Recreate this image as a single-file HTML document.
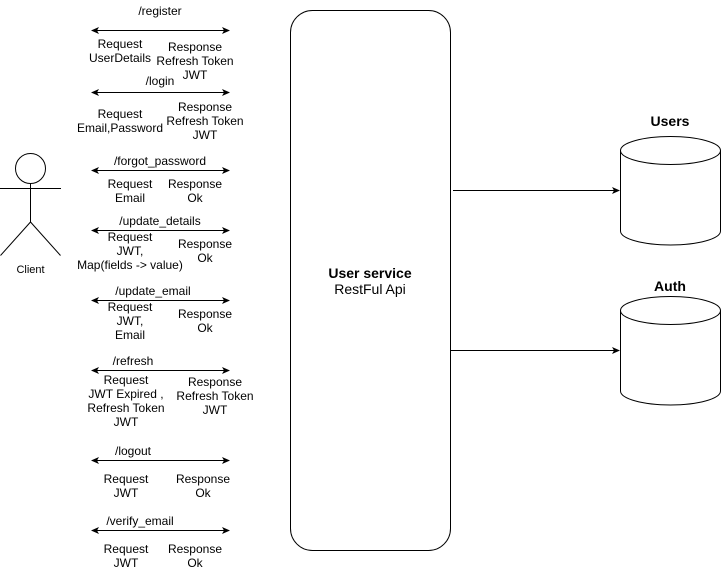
<!DOCTYPE html>
<html><head><meta charset="utf-8"><style>
html,body{margin:0;padding:0;background:#fff;}
svg{display:block;font-family:"Liberation Sans",Arial,sans-serif;}
</style></head><body>
<svg width="721" height="571" viewBox="0 0 721 571" xmlns="http://www.w3.org/2000/svg">
<defs>
<marker id="a" markerWidth="8" markerHeight="8" refX="7" refY="4" orient="auto-start-reverse" markerUnits="userSpaceOnUse"><path d="M0,0.5 L8,4 L0,7.5 L2,4 Z" fill="#000"/></marker>
</defs>
<g stroke="#000" stroke-width="1" fill="none">
<line x1="92" y1="30.5" x2="229" y2="30.5" marker-start="url(#a)" marker-end="url(#a)"/>
<line x1="92" y1="92.5" x2="229" y2="92.5" marker-start="url(#a)" marker-end="url(#a)"/>
<line x1="92" y1="170.5" x2="229" y2="170.5" marker-start="url(#a)" marker-end="url(#a)"/>
<line x1="92" y1="230.5" x2="229" y2="230.5" marker-start="url(#a)" marker-end="url(#a)"/>
<line x1="92" y1="300.5" x2="229" y2="300.5" marker-start="url(#a)" marker-end="url(#a)"/>
<line x1="92" y1="370.5" x2="229" y2="370.5" marker-start="url(#a)" marker-end="url(#a)"/>
<line x1="92" y1="460.5" x2="229" y2="460.5" marker-start="url(#a)" marker-end="url(#a)"/>
<line x1="92" y1="530.5" x2="229" y2="530.5" marker-start="url(#a)" marker-end="url(#a)"/>
<circle cx="30.5" cy="168.5" r="15"/>
<line x1="30.5" y1="183.5" x2="30.5" y2="222"/>
<line x1="0" y1="188.5" x2="61" y2="188.5"/>
<line x1="30.5" y1="222" x2="0.5" y2="255.5"/>
<line x1="30.5" y1="222" x2="60.5" y2="255.5"/>
<rect x="290.5" y="10.5" width="160" height="540" rx="22" ry="22"/>
<line x1="453" y1="190.5" x2="619" y2="190.5" marker-end="url(#a)"/>
<line x1="451" y1="350.5" x2="619" y2="350.5" marker-end="url(#a)"/>
<path d="M620.5,150.5 A50,14 0 0 1 720.5,150.5 L720.5,231 A50,14 0 0 1 620.5,231 Z"/>
<path d="M620.5,150.5 A50,14 0 0 0 720.5,150.5"/>
<path d="M620.5,310.5 A50,14 0 0 1 720.5,310.5 L720.5,391 A50,14 0 0 1 620.5,391 Z"/>
<path d="M620.5,310.5 A50,14 0 0 0 720.5,310.5"/>
</g>
<g font-size="12" text-anchor="middle" fill="#000">
<text x="160" y="15">/register</text>
<text x="120" y="48">Request</text><text x="120" y="62">UserDetails</text>
<text x="195" y="51">Response</text><text x="195" y="65">Refresh Token</text><text x="195" y="79">JWT</text>
<text x="160" y="85">/login</text>
<text x="120" y="118">Request</text><text x="120" y="132">Email,Password</text>
<text x="205" y="111">Response</text><text x="205" y="125">Refresh Token</text><text x="205" y="139">JWT</text>
<text x="160" y="165">/forgot_password</text>
<text x="130" y="188">Request</text><text x="130" y="202">Email</text>
<text x="195" y="188">Response</text><text x="195" y="202">Ok</text>
<text x="160" y="225">/update_details</text>
<text x="130" y="241">Request</text><text x="130" y="255">JWT,</text><text x="130" y="269">Map(fields -&gt; value)</text>
<text x="205" y="248">Response</text><text x="205" y="262">Ok</text>
<text x="153" y="295">/update_email</text>
<text x="130" y="311">Request</text><text x="130" y="325">JWT,</text><text x="130" y="339">Email</text>
<text x="205" y="318">Response</text><text x="205" y="332">Ok</text>
<text x="133" y="365">/refresh</text>
<text x="126" y="384">Request</text><text x="126" y="398">JWT Expired ,</text><text x="126" y="412">Refresh Token</text><text x="126" y="426">JWT</text>
<text x="215" y="386">Response</text><text x="215" y="400">Refresh Token</text><text x="215" y="414">JWT</text>
<text x="133" y="455">/logout</text>
<text x="126" y="483">Request</text><text x="126" y="497">JWT</text>
<text x="203" y="483">Response</text><text x="203" y="497">Ok</text>
<text x="140" y="525">/verify_email</text>
<text x="126" y="553">Request</text><text x="126" y="567">JWT</text>
<text x="195" y="553">Response</text><text x="195" y="567">Ok</text>
<text x="30.5" y="273" font-size="11">Client</text>
</g>
<g font-size="14" text-anchor="middle" fill="#000">
<text x="370" y="278" font-weight="bold">User service</text>
<text x="370" y="294">RestFul Api</text>
<text x="670" y="126" font-weight="bold">Users</text>
<text x="670" y="291" font-weight="bold">Auth</text>
</g>
</svg>
</body></html>
